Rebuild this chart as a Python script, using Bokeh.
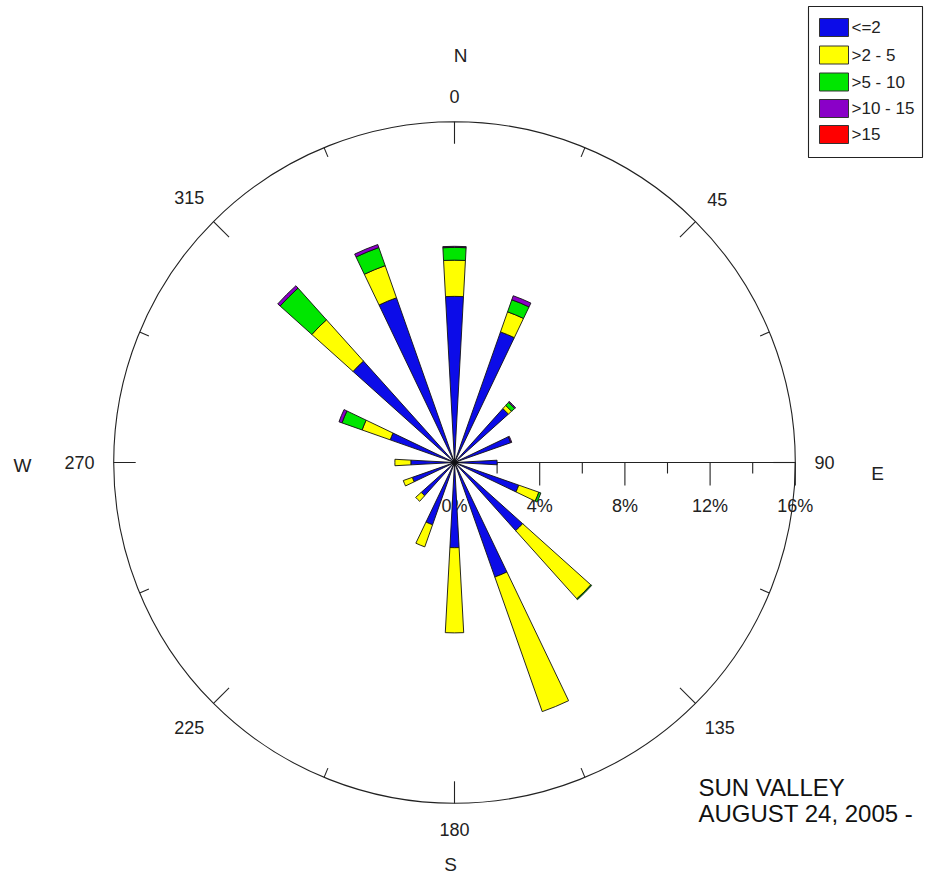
import math
from bokeh.plotting import figure
from bokeh.models import Range1d
from bokeh.embed import file_html
from bokeh.resources import INLINE
from bokeh.core.properties import value

# ---------------- data ----------------
directions = [0, 22.5, 45, 67.5, 90, 112.5, 135, 157.5,
              180, 202.5, 225, 247.5, 270, 292.5, 315, 337.5]
speed_bins = ["<=2", ">2 - 5", ">5 - 10", ">10 - 15", ">15"]
bin_colors = ["#0C0CE8", "#FFFF00", "#00E600", "#8A00C8", "#FF0000"]

pct_le2   = [7.8, 6.5, 3.4, 2.8, 2.0, 3.2, 4.3, 5.7, 4.0, 3.1, 2.1, 2.1, 2.05, 3.2, 6.4, 8.2]
pct_2_5   = [1.7, 1.0, 0.2, 0.0, 0.0, 1.0, 4.3, 6.7, 4.0, 1.1, 0.35, 0.45, 0.75, 1.4, 2.6, 1.6]
pct_5_10  = [0.6, 0.6, 0.2, 0.0, 0.0, 0.1, 0.05, 0.0, 0.0, 0.0, 0.0, 0.0, 0.0, 1.0, 2.0, 0.9]
pct_10_15 = [0.05, 0.2, 0.05, 0.05, 0.0, 0.0, 0.0, 0.0, 0.0, 0.0, 0.0, 0.0, 0.0, 0.15, 0.15, 0.15]
pct_gt15  = [0.0] * 16

ring_max = 16
ring_ticks = [0, 4, 8, 12, 16]
ring_tick_labels = ["0%", "4%", "8%", "12%", "16%"]
minor_ring_ticks = [2, 6, 10, 14]
compass_angles = [0, 45, 90, 135, 180, 225, 270, 315]
compass_labels = ["0", "45", "90", "135", "180", "225", "270", "315"]
cardinal_labels = ["N", "E", "S", "W"]
title_lines = ["SUN VALLEY", "AUGUST 24, 2005 -"]

# ---------------- layout ----------------
W, H = 924, 876
CX, CY = 454, 462          # centre in picture pixels
S = 21.3                   # pixels per percent
FONT = value("Liberation Sans")
TXT = "#222222"


def X(px):
    return (px - CX) / S


def Y(py):
    return (CY - py) / S


p = figure(width=W, height=H, output_backend="svg", toolbar_location=None,
           x_range=Range1d(X(0), X(W)), y_range=Range1d(Y(H), Y(0)),
           min_border=0, x_axis_type=None, y_axis_type=None)
p.outline_line_color = None
p.xgrid.visible = False
p.ygrid.visible = False
p.background_fill_color = "white"

# outer ring
p.circle(x=[0], y=[0], radius=ring_max, fill_color=None, line_color="#222222", line_width=1.1)

# compass ticks on the ring
for k in range(16):
    d = k * 22.5
    a = math.radians(90 - d)
    L = 22 / S if k % 2 == 0 else 10 / S
    r0 = ring_max
    r1 = ring_max - L
    p.segment(x0=[r0 * math.cos(a)], y0=[r0 * math.sin(a)],
              x1=[r1 * math.cos(a)], y1=[r1 * math.sin(a)],
              line_color="#222222", line_width=1.1)

# radial axis along east
p.segment(x0=[0], y0=[0], x1=[ring_max], y1=[0], line_color="#222222", line_width=1.1)
p.segment(x0=ring_ticks[1:], y0=[0] * 4, x1=ring_ticks[1:], y1=[-23 / S] * 4,
          line_color="#222222", line_width=1.1)
p.segment(x0=minor_ring_ticks, y0=[0] * 4, x1=minor_ring_ticks, y1=[-11 / S] * 4,
          line_color="#222222", line_width=1.1)
p.text(x=ring_ticks, y=[Y(505)] * len(ring_ticks), text=ring_tick_labels,
       text_font=FONT, text_font_size="18px", text_color=TXT,
       text_align="center", text_baseline="middle")

# petals
series = [pct_le2, pct_2_5, pct_5_10, pct_10_15, pct_gt15]
hw = math.radians(3.1)
cum = [0.0] * len(directions)
for vals, col in zip(series, bin_colors):
    xs, ys, rin, rout, sa, ea = [], [], [], [], [], []
    for i, d in enumerate(directions):
        v = vals[i]
        if v <= 0:
            continue
        a = math.radians(90 - d)
        xs.append(0)
        ys.append(0)
        rin.append(cum[i])
        rout.append(cum[i] + v)
        sa.append(a - hw)
        ea.append(a + hw)
        cum[i] += v
    if xs:
        p.annular_wedge(x=xs, y=ys, inner_radius=rin, outer_radius=rout,
                        start_angle=sa, end_angle=ea, direction="anticlock",
                        fill_color=col, line_color="#111111", line_width=0.9)

# compass degree labels
for ang, lab in zip(compass_angles, compass_labels):
    a = math.radians(90 - ang)
    w = len(lab) * 0.556 * 18
    h = 13
    r = (360 + abs(math.cos(a)) * w / 2 + abs(math.sin(a)) * h / 2) / S
    p.text(x=[r * math.cos(a)], y=[r * math.sin(a)], text=[lab],
           text_font=FONT, text_font_size="18px", text_color=TXT,
           text_align="center", text_baseline="middle")

# cardinal letters
cardinal_px = [(460, 55), (877, 473), (450, 864), (22, 465)]
for lab, (px, py) in zip(cardinal_labels, cardinal_px):
    p.text(x=[X(px)], y=[Y(py)], text=[lab], text_font=FONT, text_font_size="19px",
           text_color=TXT, text_align="center", text_baseline="middle")

# title block
for j, line in enumerate(title_lines):
    p.text(x=[X(698)], y=[Y(787 + 26 * j)], text=[line], text_font=FONT,
           text_font_size="24px", text_color="#111111", text_align="left",
           text_baseline="alphabetic")

# legend
p.quad(left=[X(808)], right=[X(922)], top=[Y(6)], bottom=[Y(157)],
       fill_color="white", line_color="#222222", line_width=1.1)
row_y = [27, 54.5, 81.5, 108, 134]
for lab, col, ry in zip(speed_bins, bin_colors, row_y):
    p.quad(left=[X(819)], right=[X(848)], top=[Y(ry - 9)], bottom=[Y(ry + 9)],
           fill_color=col, line_color="#333333", line_width=1)
    p.text(x=[X(851)], y=[Y(ry)], text=[lab], text_font=FONT, text_font_size="17px",
           text_color=TXT, text_align="left", text_baseline="middle")

open("out.html", "w").write(file_html(p, INLINE, "Wind rose"))
